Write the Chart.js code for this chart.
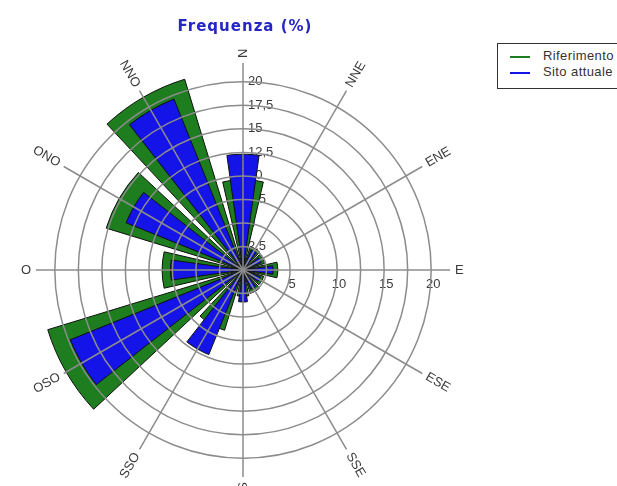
<!DOCTYPE html>
<html>
<head>
<meta charset="utf-8">
<script src="https://cdn.jsdelivr.net/npm/chart.js"></script>
<style>
  body { margin: 0; background: #fff; }
  #wrap { position: relative; width: 617px; height: 486px; overflow: hidden; }
  #title {
    position: absolute; left: 0; top: 17px; width: 490px;
    text-align: center; font: bold 15px "DejaVu Sans", sans-serif;
    letter-spacing: 1px; color: #2626c4;
  }
  #legend {
    position: absolute; left: 497px; top: 43px; width: 140px; height: 46px;
    box-sizing: border-box; border: 1px solid #333; background: #fff;
    font: 13px "Liberation Sans", Arial, sans-serif; letter-spacing: 0.4px; color: #333;
  }
  #legend .item { position: absolute; left: 12px; height: 14px; line-height: 14px; white-space: nowrap; }
  #legend .sw { display: inline-block; width: 20px; height: 2px; vertical-align: middle; margin-right: 13px; }
  canvas { position: absolute; left: 0; top: 0; }
</style>
</head>
<body>
<div id="wrap">
  <canvas id="rose" width="617" height="486"></canvas>
  <div id="title">Frequenza (%)</div>
  <div id="legend">
    <div class="item" style="top:5px"><span class="sw" style="background:#1e7d1e"></span>Riferimento</div>
    <div class="item" style="top:21px"><span class="sw" style="background:#1414e8"></span>Sito attuale</div>
  </div>
</div>
<script>
// direction sectors, clockwise from north
const directions = ['N', 'NNE', 'ENE', 'E', 'ESE', 'SSE', 'S', 'SSO', 'OSO', 'O', 'ONO', 'NNO'];
const riferimento = [9.6, 2.6, 2.4, 3.7, 2.3, 2.6, 2.8, 6.7, 21.7, 8.6, 15.2, 21.2];
const sitoAttuale = [12.3, 2.3, 2.1, 3.2, 2.0, 2.2, 3.4, 9.7, 19.8, 7.7, 13.4, 19.6];
const ringTicks = [2.5, 5, 7.5, 10, 12.5, 15, 17.5, 20];
const eastTicks = [5, 10, 15, 20];

const GREEN = '#1e7d1e';
const BLUE = '#1414e8';
const GRID = '#8c8c8c';
const SECTOR = 360 / directions.length;

// Each bar gets its own angular width; empty gaps fill the rest of the sector.
// North is split in two halves so the bars stay centred on the spokes.
function sectors(values, width) {
  const data = [values[0]], angles = [width / 2], isBar = [true];
  for (let i = 1; i < values.length; i++) {
    data.push(0, values[i]);
    angles.push(SECTOR - width, width);
    isBar.push(false, true);
  }
  data.push(0, values[0]);
  angles.push(SECTOR - width, width / 2);
  isBar.push(false, true);
  return { data, angles, isBar };
}

function makeDataset(label, values, width, color) {
  const s = sectors(values, width);
  return {
    label: label,
    data: s.data,
    angle: ctx => s.angles[ctx.dataIndex],
    backgroundColor: ctx => s.isBar[ctx.dataIndex] ? color : 'rgba(0,0,0,0)',
    borderColor: '#101010',
    borderWidth: ctx => s.isBar[ctx.dataIndex] ? 1 : 0
  };
}

const fmt = v => String(v).replace('.', ',');

const roseText = {
  id: 'roseText',
  beforeDatasetsDraw(chart) {
    const s = chart.scales.r, ctx = chart.ctx;
    ctx.save();
    ctx.font = '13px "Liberation Sans", Arial, sans-serif';
    ctx.fillStyle = '#3a3a3a';
    ctx.textAlign = 'left';
    ctx.textBaseline = 'middle';
    ringTicks.forEach(v => {
      ctx.fillText(fmt(v), s.xCenter + 5, s.yCenter - s.getDistanceFromCenterForValue(v));
    });
    ctx.textAlign = 'center';
    ctx.textBaseline = 'top';
    eastTicks.forEach(v => {
      ctx.fillText(fmt(v), s.xCenter + s.getDistanceFromCenterForValue(v) + 2, s.yCenter + 8);
    });
    ctx.restore();
  },
  afterDraw(chart) {
    const s = chart.scales.r, ctx = chart.ctx;
    ctx.save();
    ctx.font = '13px "Liberation Sans", Arial, sans-serif';
    ctx.fillStyle = '#3a3a3a';
    ctx.textBaseline = 'middle';
    directions.forEach((d, i) => {
      const deg = i * SECTOR;
      const p = s.getPointPosition(i, s.drawingArea + 5);
      ctx.save();
      ctx.translate(p.x, p.y);
      if (deg < 180) {
        ctx.rotate((deg - 90) * Math.PI / 180);
        ctx.textAlign = 'left';
      } else {
        ctx.rotate((deg - 270) * Math.PI / 180);
        ctx.textAlign = 'right';
      }
      ctx.fillText(d, 0, 0);
      ctx.restore();
    });
    ctx.restore();
  }
};

new Chart(document.getElementById('rose'), {
  type: 'polarArea',
  data: {
    labels: directions,
    datasets: [
      makeDataset('Sito attuale', sitoAttuale, 16, BLUE),
      makeDataset('Riferimento', riferimento, 26, GREEN)
    ]
  },
  options: {
    responsive: false,
    animation: false,
    layout: { padding: { left: 36, top: 63, right: 167, bottom: 9 } },
    plugins: {
      legend: { display: false },
      tooltip: { enabled: false }
    },
    scales: {
      r: {
        min: 0,
        max: 22,
        startAngle: 0,
        afterBuildTicks: scale => {
          scale.ticks = [0].concat(ringTicks).map(v => ({ value: v }));
        },
        ticks: { display: false },
        grid: { circular: true, color: GRID, lineWidth: 1.5, z: 1 },
        angleLines: { display: true, color: GRID, lineWidth: 1.5 },
        pointLabels: { display: false }
      }
    }
  },
  plugins: [roseText]
});
</script>
</body>
</html>
